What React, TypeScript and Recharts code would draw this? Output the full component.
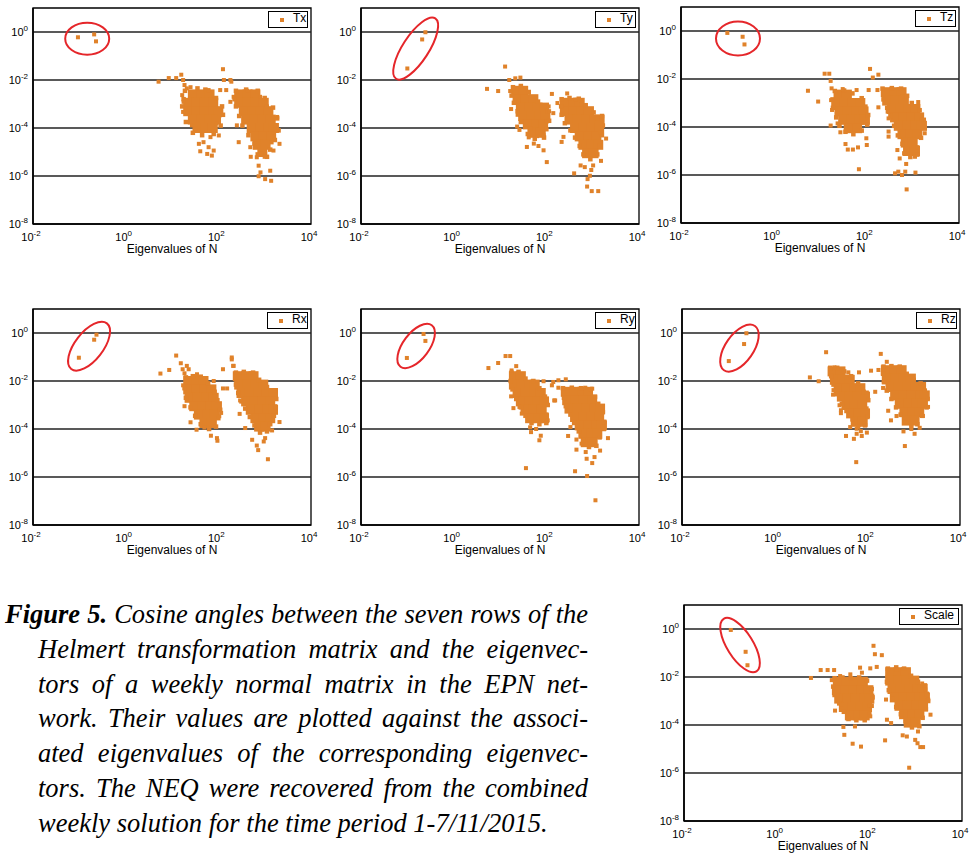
import React from 'react';
import { ScatterChart, Scatter, XAxis, YAxis, ReferenceLine, ReferenceArea, Legend } from 'recharts';

const ORANGE = '#E0822A';
const RED = '#E5262A';
const SANS = '"Liberation Sans", Arial, sans-serif';

const PLOT_W = 278;
const PLOT_H = 216;
const AXIS_W = 33;
const AXIS_H = 40;
const TOP = 8;
const RIGHT = 8;

const xTicks = [0.01, 1, 100, 10000];
const yTicks = [1e-8, 1e-6, 1e-4, 1e-2, 1];
const gridLines = [1e-6, 1e-4, 1e-2, 1];

// all values are [log10(eigenvalue), log10(cosine)]
const txCircled = [[-1.03, -0.22], [-0.68, -0.1], [-0.64, -0.39]];
const txDense = [
  [1.45, -2.6], [1.63, -2.6], [1.81, -2.6],
  [1.35, -2.95], [1.53, -2.95], [1.71, -2.95], [1.89, -2.95],
  [1.35, -3.3], [1.53, -3.3], [1.71, -3.3], [1.89, -3.3], [2.0, -3.3],
  [1.45, -3.65], [1.63, -3.65], [1.81, -3.65], [1.95, -3.65],
  [1.55, -4.0], [1.73, -4.0], [1.88, -4.0],
  [2.45, -2.6], [2.63, -2.6], [2.8, -2.6],
  [2.45, -2.95], [2.63, -2.95], [2.81, -2.95], [2.98, -2.95],
  [2.55, -3.3], [2.73, -3.3], [2.91, -3.3], [3.08, -3.3],
  [2.6, -3.65], [2.78, -3.65], [2.96, -3.65], [3.13, -3.65],
  [2.72, -4.0], [2.9, -4.0], [3.08, -4.0], [3.2, -4.0],
  [2.8, -4.35], [2.98, -4.35], [3.14, -4.35],
  [2.85, -4.7], [3.02, -4.7], [2.95, -5.0],
];
const txEdge = [
  [1.28, -2.45], [1.55, -2.35], [1.72, -2.4], [1.95, -2.75], [2.08, -3.1], [2.1, -3.45], [2.05, -3.9],
  [1.9, -4.25], [1.65, -4.3], [1.45, -4.2], [1.3, -3.75], [1.22, -3.1], [1.25, -2.8],
  [2.38, -2.45], [2.6, -2.4], [2.85, -2.45], [3.0, -2.75], [3.18, -3.15], [3.27, -3.6], [3.3, -4.1],
  [3.22, -4.5], [3.12, -4.9], [3.05, -5.2], [2.85, -5.1], [2.78, -4.65], [2.65, -4.3], [2.52, -3.9],
  [2.45, -3.5], [2.38, -3.1], [2.35, -2.8],
];
const txScatter = [
  [0.71, -2.07], [0.93, -1.92], [1.09, -1.92], [1.2, -1.78], [1.24, -2.0], [1.27, -2.21], [1.32, -2.35],
  [1.22, -2.63], [1.25, -2.91], [1.24, -3.33], [1.43, -3.89], [1.5, -4.03], [1.58, -4.66], [1.61, -4.97],
  [1.76, -5.08], [1.86, -5.15], [1.9, -4.94], [1.79, -4.8], [1.68, -4.59], [1.83, -4.38], [2.01, -4.31],
  [1.79, -2.42], [2.04, -2.42], [2.12, -2.0], [2.1, -1.55], [2.17, -2.42], [2.26, -2.0], [2.28, -2.07],
  [1.4, -2.3], [1.95, -3.8], [2.02, -3.5],
  [2.33, -2.7], [2.26, -2.91], [2.4, -3.89], [2.44, -4.59], [2.69, -4.8], [2.83, -5.22], [2.94, -5.08],
  [2.87, -5.57], [2.91, -5.85], [2.87, -6.01], [3.01, -6.13], [3.12, -5.78], [3.14, -6.2], [3.19, -4.94],
  [3.32, -4.66], [3.27, -3.54], [3.23, -3.89], [2.62, -2.45], [2.9, -2.7], [3.05, -3.1], [2.7, -5.2],
  [3.0, -5.2], [3.15, -4.6],
];

const tyCircled = [[-1.0, -1.52], [-0.68, -0.31], [-0.61, -0.01]];
const tyDense = [
  [1.35, -2.45], [1.5, -2.45],
  [1.38, -2.8], [1.56, -2.8], [1.72, -2.8],
  [1.45, -3.15], [1.63, -3.15], [1.81, -3.15], [1.95, -3.15],
  [1.5, -3.5], [1.68, -3.5], [1.86, -3.5], [1.98, -3.5],
  [1.6, -3.85], [1.78, -3.85], [1.93, -3.85],
  [1.7, -4.2], [1.88, -4.2],
  [2.4, -2.95], [2.58, -2.95], [2.72, -2.95],
  [2.4, -3.3], [2.58, -3.3], [2.76, -3.3], [2.92, -3.3],
  [2.5, -3.65], [2.68, -3.65], [2.86, -3.65], [3.04, -3.65], [3.15, -3.65],
  [2.62, -4.0], [2.8, -4.0], [2.98, -4.0], [3.14, -4.0],
  [2.72, -4.35], [2.9, -4.35], [3.08, -4.35],
  [2.8, -4.7], [2.98, -4.7], [3.12, -4.7],
  [2.88, -5.05], [3.02, -5.05],
];
const tyEdge = [
  [1.28, -2.3], [1.45, -2.25], [1.62, -2.5], [1.82, -2.9], [2.02, -3.3], [2.06, -3.7], [2.0, -4.05],
  [1.95, -4.4], [1.75, -4.45], [1.6, -4.25], [1.45, -3.75], [1.38, -3.3], [1.3, -2.95], [1.25, -2.65],
  [2.33, -2.8], [2.5, -2.75], [2.7, -2.78], [2.85, -3.05], [3.02, -3.35], [3.2, -3.5], [3.22, -3.9],
  [3.2, -4.3], [3.15, -4.75], [3.1, -5.1], [2.95, -5.3], [2.8, -5.1], [2.72, -4.75], [2.62, -4.4],
  [2.52, -4.1], [2.4, -3.8], [2.33, -3.45], [2.32, -3.1],
];
const tyScatter = [
  [0.72, -2.37], [0.96, -2.46], [1.11, -1.44], [1.2, -2.0], [1.33, -1.93], [1.44, -1.9], [1.22, -2.46],
  [1.24, -3.21], [1.38, -3.45], [1.37, -3.94], [1.42, -4.08], [1.65, -4.01], [1.58, -4.79], [1.73, -4.65],
  [1.83, -4.75], [1.94, -4.93], [2.01, -5.42], [1.62, -4.39], [2.05, -3.1], [2.06, -3.3], [2.12, -2.58],
  [2.01, -3.73], [1.94, -4.3], [1.8, -4.34],
  [2.24, -2.96], [2.45, -2.56], [2.15, -3.38], [2.37, -4.37], [2.33, -4.58], [2.6, -5.89], [2.74, -5.56],
  [2.83, -5.63], [3.01, -5.56], [2.97, -5.75], [2.94, -5.99], [2.89, -6.13], [2.88, -6.44], [2.98, -6.63],
  [3.12, -6.63], [3.18, -5.37], [3.29, -4.44], [3.16, -4.2], [2.62, -2.82], [2.76, -3.03], [3.1, -3.6],
];

const tzCircled = [[-1.0, -0.08], [-0.67, -0.24], [-0.63, -0.56]];
const tzDense = [
  [1.4, -2.65], [1.58, -2.65],
  [1.35, -3.0], [1.53, -3.0], [1.71, -3.0], [1.87, -3.0],
  [1.42, -3.35], [1.6, -3.35], [1.78, -3.35], [1.94, -3.35],
  [1.5, -3.7], [1.68, -3.7], [1.86, -3.7], [1.97, -3.7],
  [1.62, -4.05], [1.8, -4.05],
  [2.42, -2.55], [2.6, -2.55], [2.76, -2.55],
  [2.45, -2.9], [2.63, -2.9], [2.81, -2.9],
  [2.55, -3.25], [2.73, -3.25], [2.91, -3.25], [3.06, -3.25],
  [2.62, -3.6], [2.8, -3.6], [2.98, -3.6], [3.14, -3.6],
  [2.7, -3.95], [2.88, -3.95], [3.06, -3.95], [3.2, -3.95],
  [2.78, -4.3], [2.96, -4.3], [3.1, -4.3],
  [2.85, -4.65], [3.0, -4.65], [2.9, -5.0], [3.05, -5.0],
];
const tzEdge = [
  [1.32, -2.5], [1.52, -2.48], [1.7, -2.6], [1.9, -2.8], [1.98, -3.15], [2.04, -3.5], [2.02, -3.9],
  [1.9, -4.15], [1.72, -4.3], [1.55, -4.2], [1.42, -3.95], [1.35, -3.6], [1.28, -3.2], [1.27, -2.85],
  [2.35, -2.4], [2.55, -2.38], [2.75, -2.4], [2.88, -2.7], [2.98, -3.0], [3.15, -3.3], [3.24, -3.7],
  [3.26, -4.05], [3.18, -4.45], [3.1, -4.85], [3.1, -5.15], [2.95, -5.25], [2.82, -5.1], [2.78, -4.7],
  [2.68, -4.35], [2.6, -3.95], [2.52, -3.55], [2.45, -3.2], [2.37, -2.85],
];
const tzScatter = [
  [0.74, -2.49], [0.96, -2.94], [1.1, -1.78], [1.2, -1.78], [1.23, -2.08], [1.25, -2.39], [1.24, -2.88],
  [1.26, -3.29], [1.23, -3.94], [1.38, -3.85], [1.44, -4.22], [1.55, -4.71], [1.6, -4.94], [1.71, -4.94],
  [1.82, -4.85], [2.01, -4.75], [1.84, -5.76], [2.0, -4.47], [1.79, -2.46], [2.05, -2.46], [2.08, -1.58],
  [2.14, -1.94], [2.26, -1.82], [2.24, -2.46], [1.49, -2.42],
  [2.46, -3.36], [2.48, -3.64], [2.48, -4.19], [2.48, -4.4], [2.67, -4.96], [2.72, -5.31], [2.86, -5.54],
  [2.84, -5.86], [3.06, -5.9], [3.05, -5.24], [2.62, -5.93], [2.69, -5.86], [2.77, -6.0], [2.87, -6.6],
  [3.26, -4.26], [3.19, -3.68], [3.12, -2.96], [2.78, -2.74], [2.26, -3.18],
];

const rxCircled = [[-1.01, -1.03], [-0.68, -0.28], [-0.63, -0.07]];
const rxDense = [
  [1.35, -2.0], [1.52, -2.0], [1.68, -2.0],
  [1.35, -2.35], [1.53, -2.35], [1.71, -2.35], [1.85, -2.35],
  [1.38, -2.7], [1.56, -2.7], [1.74, -2.7], [1.9, -2.7],
  [1.48, -3.05], [1.66, -3.05], [1.84, -3.05], [1.97, -3.05],
  [1.58, -3.4], [1.76, -3.4], [1.92, -3.4],
  [1.7, -3.75], [1.86, -3.75],
  [2.42, -1.8], [2.6, -1.8], [2.76, -1.8],
  [2.45, -2.15], [2.63, -2.15], [2.81, -2.15], [2.97, -2.15],
  [2.5, -2.5], [2.68, -2.5], [2.86, -2.5], [3.04, -2.5], [3.18, -2.5],
  [2.6, -2.85], [2.78, -2.85], [2.96, -2.85], [3.12, -2.85],
  [2.7, -3.2], [2.88, -3.2], [3.06, -3.2], [3.18, -3.2],
  [2.8, -3.55], [2.98, -3.55], [3.12, -3.55],
  [2.88, -3.9], [3.02, -3.9],
];
const rxEdge = [
  [1.3, -1.85], [1.45, -1.8], [1.62, -1.82], [1.78, -2.1], [1.92, -2.45], [1.98, -2.8], [2.04, -3.2],
  [2.0, -3.55], [1.95, -3.9], [1.8, -4.0], [1.62, -3.8], [1.5, -3.45], [1.4, -3.1], [1.3, -2.7], [1.27, -2.3],
  [2.38, -1.65], [2.55, -1.62], [2.75, -1.65], [2.88, -1.95], [3.05, -2.25], [3.22, -2.4], [3.25, -2.75],
  [3.24, -3.1], [3.2, -3.45], [3.12, -3.8], [3.05, -4.1], [2.9, -4.15], [2.78, -3.85], [2.68, -3.5],
  [2.58, -3.15], [2.5, -2.85], [2.43, -2.5], [2.38, -2.15],
];
const rxScatter = [
  [0.75, -1.69], [0.94, -1.54], [1.09, -0.94], [1.19, -1.26], [1.23, -1.51], [1.32, -1.37], [1.27, -1.68],
  [1.36, -1.51], [1.24, -2.18], [1.27, -3.05], [1.4, -3.72], [1.53, -4.03], [1.84, -4.28], [1.97, -4.38],
  [1.98, -4.49], [2.02, -3.47], [2.06, -3.33], [1.9, -2.0], [2.1, -2.31], [2.19, -2.31], [2.1, -1.51],
  [1.7, -3.94], [1.54, -1.72],
  [2.29, -1.1], [2.33, -1.37], [2.29, -1.02], [2.32, -1.37], [2.46, -3.37], [2.58, -3.96], [2.73, -4.45],
  [2.83, -4.69], [2.86, -4.88], [2.98, -4.52], [3.01, -4.38], [3.07, -5.26], [3.16, -4.06], [3.32, -3.71],
  [3.23, -3.05], [2.47, -2.81],
];

const ryCircled = [[-1.01, -1.04], [-0.65, -0.04], [-0.61, -0.33]];
const ryDense = [
  [1.3, -1.8], [1.45, -1.8],
  [1.3, -2.15], [1.47, -2.15], [1.63, -2.15], [1.75, -2.15],
  [1.38, -2.5], [1.56, -2.5], [1.74, -2.5], [1.88, -2.5],
  [1.45, -2.85], [1.63, -2.85], [1.81, -2.85], [1.95, -2.85],
  [1.55, -3.2], [1.73, -3.2], [1.9, -3.2],
  [1.65, -3.55], [1.83, -3.55], [1.95, -3.55],
  [2.42, -2.45], [2.6, -2.45], [2.78, -2.45], [2.9, -2.45],
  [2.45, -2.8], [2.63, -2.8], [2.81, -2.8], [2.99, -2.8],
  [2.5, -3.15], [2.68, -3.15], [2.86, -3.15], [3.04, -3.15], [3.16, -3.15],
  [2.62, -3.5], [2.8, -3.5], [2.98, -3.5], [3.14, -3.5],
  [2.72, -3.85], [2.9, -3.85], [3.08, -3.85], [3.2, -3.85],
  [2.8, -4.2], [2.98, -4.2], [3.1, -4.2],
  [2.85, -4.55], [3.0, -4.55],
];
const ryEdge = [
  [1.25, -1.65], [1.4, -1.62], [1.55, -1.9], [1.72, -2.0], [1.85, -2.3], [1.97, -2.65], [2.03, -3.0],
  [2.0, -3.4], [2.0, -3.75], [1.85, -3.8], [1.68, -3.75], [1.55, -3.45], [1.45, -3.1], [1.35, -2.75],
  [1.27, -2.35], [1.23, -2.0],
  [2.36, -2.3], [2.55, -2.28], [2.75, -2.3], [2.95, -2.35], [3.05, -2.65], [3.12, -2.95], [3.22, -3.3],
  [3.25, -3.7], [3.24, -4.0], [3.15, -4.35], [3.08, -4.7], [2.92, -4.75], [2.8, -4.45], [2.7, -4.1],
  [2.6, -3.75], [2.52, -3.4], [2.42, -3.05], [2.38, -2.7],
];
const ryScatter = [
  [0.75, -1.46], [0.96, -1.25], [1.12, -0.96], [1.22, -0.96], [1.35, -1.38], [1.25, -1.56], [1.24, -2.64],
  [1.29, -3.13], [1.42, -3.08], [1.47, -3.36], [1.67, -4.13], [1.65, -3.93], [1.78, -4.0], [1.85, -4.47],
  [1.88, -4.28], [1.56, -5.63], [2.03, -3.64], [1.94, -2.01], [2.12, -2.18], [2.15, -2.04], [2.17, -2.81],
  [2.26, -1.97], [2.42, -1.93], [2.26, -2.28], [2.19, -2.81], [2.52, -3.92], [2.47, -4.29], [2.65, -4.44],
  [2.65, -4.86], [2.76, -4.61], [2.87, -5.24], [2.85, -4.96], [2.99, -5.42], [3.04, -5.17], [3.16, -4.9],
  [3.33, -4.38], [3.22, -3.89], [2.62, -5.76], [2.88, -5.96], [3.06, -6.97], [2.84, -2.28], [2.99, -2.32],
];

const rzCircled = [[-0.99, -1.17], [-0.66, -0.46], [-0.61, -0.01]];
const rzDense = [
  [1.25, -1.6], [1.42, -1.6],
  [1.3, -1.95], [1.47, -1.95], [1.62, -1.95],
  [1.38, -2.3], [1.55, -2.3], [1.72, -2.3], [1.85, -2.3],
  [1.45, -2.65], [1.62, -2.65], [1.79, -2.65], [1.95, -2.65],
  [1.55, -3.0], [1.72, -3.0], [1.89, -3.0],
  [1.65, -3.35], [1.82, -3.35], [1.95, -3.35],
  [1.75, -3.7], [1.9, -3.7],
  [2.4, -1.55], [2.58, -1.55], [2.74, -1.55],
  [2.42, -1.9], [2.6, -1.9], [2.78, -1.9], [2.94, -1.9],
  [2.5, -2.25], [2.68, -2.25], [2.86, -2.25], [3.04, -2.25], [3.16, -2.25],
  [2.6, -2.6], [2.78, -2.6], [2.96, -2.6], [3.14, -2.6], [3.24, -2.6],
  [2.7, -2.95], [2.88, -2.95], [3.06, -2.95], [3.2, -2.95],
  [2.8, -3.3], [2.98, -3.3], [3.12, -3.3],
  [2.85, -3.65], [3.02, -3.65],
];
const rzEdge = [
  [1.2, -1.45], [1.35, -1.45], [1.5, -1.6], [1.65, -1.8], [1.8, -2.1], [1.92, -2.45], [2.02, -2.8],
  [1.98, -3.15], [2.0, -3.5], [1.95, -3.85], [1.8, -3.9], [1.68, -3.6], [1.55, -3.25], [1.45, -2.95],
  [1.35, -2.55], [1.27, -2.15], [1.22, -1.8],
  [2.35, -1.4], [2.52, -1.38], [2.7, -1.4], [2.85, -1.7], [3.0, -1.95], [3.15, -2.1], [3.24, -2.4],
  [3.3, -2.75], [3.28, -3.1], [3.18, -3.45], [3.08, -3.8], [2.95, -3.85], [2.8, -3.7], [2.72, -3.4],
  [2.62, -3.1], [2.52, -2.75], [2.42, -2.4], [2.36, -2.05], [2.34, -1.7],
];
const rzScatter = [
  [0.76, -1.85], [0.95, -2.01], [1.11, -0.8], [1.27, -2.38], [1.26, -2.57], [1.43, -3.22], [1.43, -3.34],
  [1.4, -3.01], [1.54, -4.29], [1.63, -3.92], [1.77, -3.99], [1.71, -4.41], [1.77, -4.2], [1.86, -4.09],
  [1.88, -4.29], [1.99, -4.15], [1.76, -5.38], [1.99, -2.48], [1.82, -1.64], [1.59, -1.64], [1.29, -1.43],
  [1.2, -1.5],
  [2.29, -0.87], [2.42, -1.2], [2.08, -1.57], [2.24, -1.54], [2.17, -2.45], [2.34, -2.29], [2.45, -3.24],
  [2.51, -3.64], [2.63, -3.46], [2.78, -4.1], [2.81, -4.71], [2.95, -4.0], [3.02, -4.2], [3.13, -3.95],
  [3.2, -3.46], [3.31, -3.08], [2.84, -3.73],
];

const scCircled = [[-0.99, -0.04], [-0.67, -0.95], [-0.63, -1.51]];
const scDense = [
  [1.32, -2.2], [1.5, -2.2], [1.68, -2.2], [1.86, -2.2],
  [1.3, -2.55], [1.48, -2.55], [1.66, -2.55], [1.84, -2.55], [1.98, -2.55],
  [1.35, -2.9], [1.53, -2.9], [1.71, -2.9], [1.89, -2.9], [2.0, -2.9],
  [1.45, -3.25], [1.63, -3.25], [1.81, -3.25], [1.95, -3.25],
  [1.58, -3.6], [1.76, -3.6], [1.9, -3.6],
  [2.45, -1.8], [2.63, -1.8], [2.79, -1.8],
  [2.45, -2.15], [2.63, -2.15], [2.81, -2.15], [2.97, -2.15],
  [2.5, -2.5], [2.68, -2.5], [2.86, -2.5], [3.04, -2.5], [3.15, -2.5],
  [2.55, -2.85], [2.73, -2.85], [2.91, -2.85], [3.09, -2.85], [3.2, -2.85],
  [2.65, -3.2], [2.83, -3.2], [3.01, -3.2], [3.16, -3.2],
  [2.75, -3.55], [2.93, -3.55], [3.08, -3.55],
  [2.85, -3.9], [3.0, -3.9],
];
const scEdge = [
  [1.25, -2.05], [1.42, -2.02], [1.6, -2.05], [1.78, -2.02], [1.95, -2.15], [2.05, -2.5], [2.07, -2.85],
  [2.05, -3.2], [2.0, -3.55], [1.9, -3.8], [1.72, -3.8], [1.55, -3.75], [1.45, -3.45], [1.35, -3.1],
  [1.25, -2.75], [1.22, -2.4],
  [2.4, -1.65], [2.58, -1.6], [2.75, -1.65], [2.9, -1.95], [3.05, -2.2], [3.2, -2.35], [3.24, -2.7],
  [3.27, -3.0], [3.22, -3.35], [3.15, -3.7], [3.08, -4.05], [2.92, -4.1], [2.78, -3.85], [2.68, -3.55],
  [2.58, -3.25], [2.5, -2.9], [2.42, -2.55], [2.38, -2.2],
];
const scScatter = [
  [0.74, -2.04], [0.95, -1.71], [1.1, -1.71], [1.24, -1.71], [1.19, -2.13], [1.26, -3.4], [1.41, -3.15],
  [1.44, -4.08], [1.46, -4.41], [1.64, -4.78], [1.82, -4.9], [1.8, -1.61], [1.84, -1.82], [1.69, -4.06],
  [2.02, -3.64], [2.01, -3.17], [1.37, -1.96], [1.59, -1.89],
  [2.09, -0.7], [2.12, -1.05], [2.27, -1.09], [2.02, -1.64], [2.16, -1.58], [2.36, -2.94], [2.38, -3.78],
  [2.47, -3.92], [2.34, -4.64], [2.72, -4.43], [2.81, -4.48], [2.86, -5.78], [2.99, -4.62], [3.05, -4.27],
  [3.04, -4.76], [3.1, -4.92], [3.16, -4.92], [3.14, -2.27], [3.21, -2.52], [3.32, -3.57], [3.27, -2.94],
  [2.58, -1.68],
];

// centres of the red rings drawn around the three outlying points
const txRing = [[-0.83, -0.28]];
const tyRing = [[-0.82, -0.69]];
const tzRing = [[-0.77, -0.31]];
const rxRing = [[-0.79, -0.55]];
const ryRing = [[-0.81, -0.54]];
const rzRing = [[-0.76, -0.63]];
const scRing = [[-0.79, -0.67]];

const panels = [
  { name: 'Tx', left: 33, top: 8, circled: txCircled, dense: txDense, edge: txEdge, scatter: txScatter, ring: txRing, rx: 22, ry: 16, angle: 0, legendW: 40 },
  { name: 'Ty', left: 361, top: 8, circled: tyCircled, dense: tyDense, edge: tyEdge, scatter: tyScatter, ring: tyRing, rx: 36, ry: 13, angle: -57, legendW: 41 },
  { name: 'Tz', left: 681, top: 7, circled: tzCircled, dense: tzDense, edge: tzEdge, scatter: tzScatter, ring: tzRing, rx: 22, ry: 17, angle: 0, legendW: 41 },
  { name: 'Rx', left: 33, top: 309, circled: rxCircled, dense: rxDense, edge: rxEdge, scatter: rxScatter, ring: rxRing, rx: 29, ry: 14, angle: -52, legendW: 41 },
  { name: 'Ry', left: 361, top: 309, circled: ryCircled, dense: ryDense, edge: ryEdge, scatter: ryScatter, ring: ryRing, rx: 26, ry: 13, angle: -53, legendW: 41 },
  { name: 'Rz', left: 682, top: 309, circled: rzCircled, dense: rzDense, edge: rzEdge, scatter: rzScatter, ring: rzRing, rx: 27, ry: 14, angle: -55, legendW: 41 },
  { name: 'Scale', left: 684, top: 605, circled: scCircled, dense: scDense, edge: scEdge, scatter: scScatter, ring: scRing, rx: 31, ry: 13, angle: 58, legendW: 60 },
];

const toPoints = (rows: number[][]) => rows.map(([lx, ly]) => ({ x: Math.pow(10, lx), y: Math.pow(10, ly) }));

const square = (s: number) => (p: any) => (
  <rect x={p.cx - s / 2} y={p.cy - s / 2} width={s} height={s} fill={ORANGE} />
);

function XTick({ x, y, payload }: any) {
  const exp = Math.round(Math.log10(payload.value));
  return (
    <text x={x - 2} y={y + 9} textAnchor="middle" fontSize={11} fontFamily={SANS} fill="#000">
      10<tspan dy={-5} fontSize={8}>{exp}</tspan>
    </text>
  );
}

function YTick({ x, y, payload }: any) {
  const exp = Math.round(Math.log10(payload.value));
  return (
    <text x={x + 3} y={y + 4} textAnchor="end" fontSize={11} fontFamily={SANS} fill="#000">
      10<tspan dy={-5} fontSize={8}>{exp}</tspan>
    </text>
  );
}

function Panel({ p }: { p: typeof panels[number] }) {
  const ring = (props: any) => (
    <ellipse
      cx={props.cx}
      cy={props.cy}
      rx={p.rx}
      ry={p.ry}
      transform={`rotate(${p.angle} ${props.cx} ${props.cy})`}
      fill="none"
      stroke={RED}
      strokeWidth={2}
    />
  );
  const legend = () => (
    <div
      style={{
        width: p.legendW - 2,
        height: 15,
        border: '1.5px solid #000',
        background: '#fff',
        position: 'relative',
        fontFamily: SANS,
        fontSize: 12,
        lineHeight: '15px',
      }}
    >
      <span style={{ position: 'absolute', left: 11, top: 6, width: 4, height: 4, background: ORANGE }} />
      <span style={{ position: 'absolute', left: 24, top: -1 }}>{p.name}</span>
    </div>
  );
  return (
    <div style={{ position: 'absolute', left: p.left - AXIS_W, top: p.top - TOP }}>
      <ScatterChart
        width={AXIS_W + PLOT_W + RIGHT}
        height={TOP + PLOT_H + AXIS_H}
        margin={{ top: TOP, right: RIGHT, bottom: 0, left: 0 }}
      >
        <XAxis
          type="number"
          dataKey="x"
          scale="log"
          domain={[0.01, 10000]}
          ticks={xTicks}
          interval={0}
          allowDataOverflow
          height={AXIS_H}
          tickLine={false}
          axisLine={{ stroke: '#000', strokeWidth: 1.6 }}
          tick={<XTick />}
          label={{ value: 'Eigenvalues of N', position: 'insideBottom', offset: 11, fontSize: 12, fill: '#000', fontFamily: SANS }}
        />
        <YAxis
          type="number"
          dataKey="y"
          scale="log"
          domain={[1e-8, 10]}
          ticks={yTicks}
          interval={0}
          allowDataOverflow
          width={AXIS_W}
          tickLine={false}
          axisLine={{ stroke: '#000', strokeWidth: 1.6 }}
          tick={<YTick />}
        />
        {gridLines.map((v) => (
          <ReferenceLine key={v} y={v} stroke="#222" strokeWidth={1.3} />
        ))}
        <ReferenceArea x1={0.01} x2={10000} y1={1e-8} y2={10} fill="none" stroke="#000" strokeWidth={1.3} />
        <Scatter data={toPoints(p.dense)} shape={square(10)} legendType="none" isAnimationActive={false} />
        <Scatter data={toPoints(p.edge)} shape={square(4.5)} legendType="none" isAnimationActive={false} />
        <Scatter name={p.name} data={toPoints(p.scatter)} shape={square(4)} isAnimationActive={false} />
        <Scatter data={toPoints(p.circled)} shape={square(4)} legendType="none" isAnimationActive={false} />
        <Scatter data={toPoints(p.ring)} shape={ring} legendType="none" isAnimationActive={false} />
        <Legend
          layout="vertical"
          align="center"
          verticalAlign="middle"
          content={legend}
          wrapperStyle={{ left: AXIS_W + PLOT_W - p.legendW - 3, top: TOP + 3, width: p.legendW, height: 17 }}
        />
      </ScatterChart>
    </div>
  );
}

const captionLines = [
  'Cosine angles between the seven rows of the',
  'Helmert transformation matrix and the eigenvec-',
  'tors of a weekly normal matrix in the EPN net-',
  'work. Their values are plotted against the associ-',
  'ated eigenvalues of the corresponding eigenvec-',
  'tors. The NEQ were recovered from the combined',
  'weekly solution for the time period 1-7/11/2015.',
];

function Caption() {
  return (
    <div
      style={{
        position: 'absolute',
        left: 5,
        top: 597,
        width: 583,
        fontFamily: '"Liberation Serif", "Times New Roman", serif',
        fontStyle: 'italic',
        fontSize: 26.5,
        lineHeight: '34.8px',
        color: '#000',
      }}
    >
      {captionLines.map((line, i) => (
        <div
          key={i}
          style={{
            paddingLeft: i === 0 ? 0 : 33,
            textAlign: 'justify',
            textAlignLast: i === captionLines.length - 1 ? 'left' : 'justify',
            whiteSpace: 'nowrap',
          }}
        >
          {i === 0 && <b>Figure 5. </b>}
          {line}
        </div>
      ))}
    </div>
  );
}

export default function App() {
  return (
    <div style={{ position: 'absolute', left: 0, top: 0, width: 976, height: 854, background: '#fff', overflow: 'hidden' }}>
      {panels.map((p) => (
        <Panel key={p.name} p={p} />
      ))}
      <Caption />
    </div>
  );
}
